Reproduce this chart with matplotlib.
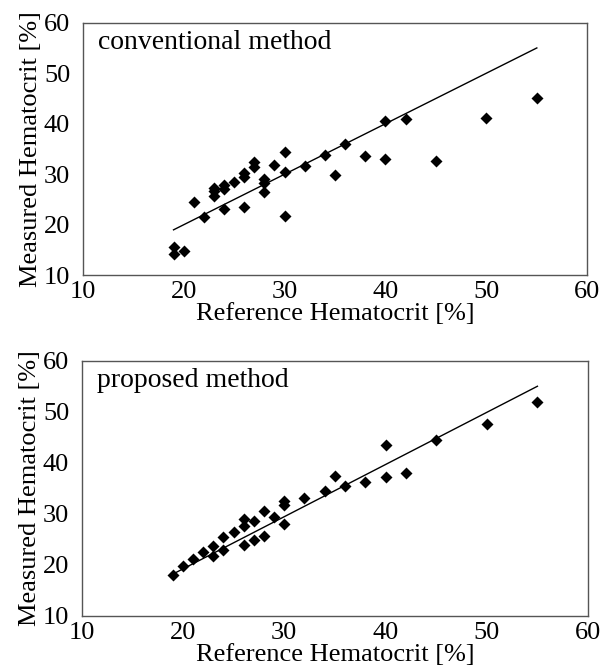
import numpy as np
import matplotlib
matplotlib.use("Agg")
import matplotlib.pyplot as plt

plt.rcParams['font.family'] = ['Liberation Serif', 'DejaVu Serif']

# conventional method (reference, measured)
conv_ref = [19, 19, 20, 21, 22, 23, 23, 23, 24, 24, 24, 25, 26, 26, 26, 27, 27,
            28, 28, 28, 29, 30, 30, 30, 32, 34, 35, 36, 38, 40, 40, 42, 45, 50, 55]
conv_meas = [15.7, 14.2, 14.9, 24.5, 21.5, 27.2, 26.6, 25.6, 27.9, 27.0, 23.1, 28.5,
             30.3, 29.5, 23.6, 32.4, 31.5, 29.0, 28.3, 26.4, 31.8, 34.4, 30.5, 21.8,
             31.7, 33.8, 29.9, 35.9, 33.7, 40.6, 33.1, 40.9, 32.6, 41.2, 45.0]
conv_line_x = [19, 55]
conv_line_y = [19, 55]

# proposed method
prop_ref = [19, 20, 21, 22, 23, 23, 24, 24, 25, 26, 26, 26, 27, 27, 28, 28, 29,
            30, 30, 30, 32, 34, 35, 36, 38, 40, 40, 42, 45, 50, 55]
prop_meas = [18.0, 19.7, 21.2, 22.5, 23.8, 21.7, 25.5, 22.9, 26.5, 28.9, 27.7, 23.9,
             28.7, 24.9, 30.6, 25.7, 29.3, 32.6, 31.7, 28.1, 33.2, 34.5, 37.5, 35.5,
             36.2, 43.4, 37.3, 38.0, 44.4, 47.7, 52.0]
prop_line_x = [19, 55]
prop_line_y = [18.2, 55]

ticks = [10, 20, 30, 40, 50, 60]

fig = plt.figure(figsize=(6.05, 6.71), dpi=100)
ax1 = fig.add_axes([0.1367, 0.5897, 0.834, 0.3765])
ax2 = fig.add_axes([0.1350, 0.0820, 0.837, 0.3804])

panels = [(ax1, conv_ref, conv_meas, conv_line_x, conv_line_y, 'conventional method'),
          (ax2, prop_ref, prop_meas, prop_line_x, prop_line_y, 'proposed method')]

for ax, xs, ys, lx, ly, name in panels:
    ax.plot(lx, ly, color='black', lw=1.0)
    ax.plot(xs, ys, 'D', color='black', ms=6.5, mec='none')
    ax.set_xlim(10, 60)
    ax.set_ylim(10, 60)
    ax.set_xticks(ticks)
    ax.set_yticks(ticks)
    ax.tick_params(length=0, labelsize=19)
    ax.tick_params(axis='y', pad=9)
    ax.tick_params(axis='x', pad=4)
    for sp in ax.spines.values():
        sp.set_color('#555555')
        sp.set_linewidth(1.0)
    ax.set_xlabel('Reference Hematocrit [%]', fontsize=19, labelpad=0)
    ax.set_ylabel('Measured Hematocrit [%]', fontsize=19, labelpad=1)
    ax.text(0.03, 0.97, name, transform=ax.transAxes, fontsize=20,
            ha='left', va='top')

fig.savefig('out.png', dpi=100)
